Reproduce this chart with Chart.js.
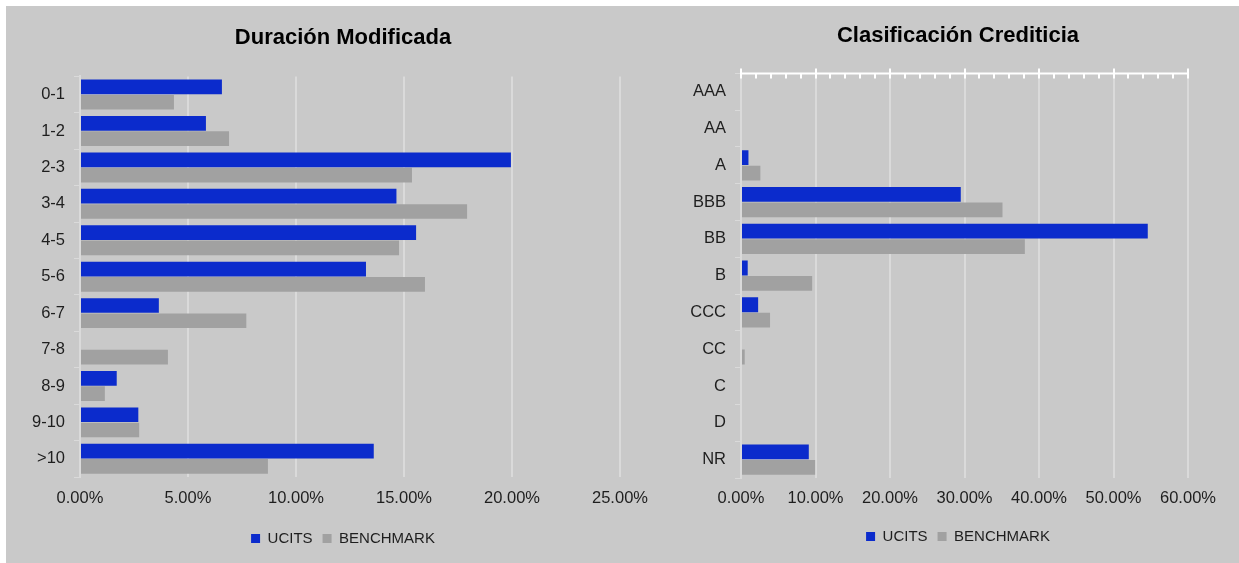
<!DOCTYPE html>
<html>
<head>
<meta charset="utf-8">
<script src="https://cdn.jsdelivr.net/npm/chart.js@4/dist/chart.umd.min.js"></script>
<style>
    html, body { margin: 0; padding: 0; background: #ffffff; }
    #panel {
        position: absolute;
        left: 6px;
        top: 6px;
        width: 1233px;
        height: 557px;
        background: #c9c9c9;
    }
    #panel canvas { position: absolute; top: 0; }
    #dur-chart { left: 0; }
    #cr-chart { left: 654px; }
</style>
</head>
<body>
<div id="panel">
    <canvas id="dur-chart" width="654" height="557"></canvas>
    <canvas id="cr-chart" width="579" height="557"></canvas>
</div>
<script>
// Duración Modificada (% of portfolio)
var durCategories = ['0-1', '1-2', '2-3', '3-4', '4-5', '5-6', '6-7', '7-8', '8-9', '9-10', '>10'];
var durUcits = [6.57, 5.83, 19.95, 14.65, 15.56, 13.24, 3.65, 0, 1.7, 2.7, 13.6];
var durBenchmark = [4.35, 6.9, 15.37, 17.92, 14.77, 15.97, 7.7, 4.07, 1.15, 2.74, 8.7];
var durTicks = { min: 0, max: 25, step: 5 };

// Clasificación Crediticia (% of portfolio)
var crCategories = ['AAA', 'AA', 'A', 'BBB', 'BB', 'B', 'CCC', 'CC', 'C', 'D', 'NR'];
var crUcits = [0, 0, 1.0, 29.5, 54.6, 0.9, 2.3, 0, 0, 0, 9.1];
var crBenchmark = [0, 0, 2.6, 35.1, 38.1, 9.55, 3.9, 0.5, 0, 0, 9.95];
var crTicks = { min: 0, max: 60, step: 10, minorStep: 2 };

var seriesNames = ['UCITS', 'BENCHMARK'];

(function () {
    'use strict';

    var FONT = "'Liberation Sans', Arial, sans-serif";
    var BLUE = '#0b2bcc';
    var GREY = '#a1a1a1';
    var GRID = '#dadada';
    var TEXT = '#1e1e1e';

    function pct(value) {
        return value.toFixed(2) + '%';
    }

    // white axis line along the top with major/minor tick marks (Excel style)
    var topAxisPlugin = {
        id: 'topAxis',
        afterDraw: function (chart, args, opts) {
            if (!opts || !opts.enabled) {
                return;
            }
            var x = chart.scales.x;
            var top = chart.chartArea.top;
            var c = chart.ctx;
            c.save();
            c.strokeStyle = '#ffffff';
            c.lineWidth = 2;
            c.beginPath();
            c.moveTo(chart.chartArea.left, top);
            c.lineTo(chart.chartArea.right, top);
            for (var v = x.min; v <= x.max + 1e-9; v += opts.minorStep) {
                var px = Math.round(x.getPixelForValue(v));
                var major = Math.abs(v / opts.majorStep - Math.round(v / opts.majorStep)) < 1e-6;
                c.moveTo(px, major ? top - 5 : top);
                c.lineTo(px, top + 5);
            }
            c.stroke();
            c.restore();
        }
    };

    function buildChart(canvasId, cfg) {
        var ctx = document.getElementById(canvasId);
        return new Chart(ctx, {
            type: 'bar',
            data: {
                labels: cfg.labels,
                datasets: [
                    {
                        label: seriesNames[0],
                        data: cfg.ucits,
                        backgroundColor: BLUE,
                        borderWidth: 0,
                        categoryPercentage: 0.84,
                        barPercentage: 0.96
                    },
                    {
                        label: seriesNames[1],
                        data: cfg.benchmark,
                        backgroundColor: GREY,
                        borderWidth: 0,
                        categoryPercentage: 0.84,
                        barPercentage: 0.96
                    }
                ]
            },
            plugins: [topAxisPlugin],
            options: {
                indexAxis: 'y',
                responsive: false,
                animation: false,
                layout: { padding: { left: cfg.padLeft, bottom: cfg.padBottom } },
                plugins: {
                    title: {
                        display: true,
                        text: cfg.title,
                        color: '#000000',
                        font: { family: FONT, size: 22, weight: 'bold' },
                        padding: { top: cfg.titleTop, bottom: cfg.titleBottom }
                    },
                    legend: {
                        position: 'bottom',
                        labels: {
                            boxWidth: 9,
                            boxHeight: 9,
                            padding: 10,
                            color: TEXT,
                            font: { family: FONT, size: 15 }
                        }
                    },
                    tooltip: { enabled: false },
                    topAxis: {
                        enabled: cfg.topAxis,
                        majorStep: cfg.ticks.step,
                        minorStep: cfg.ticks.minorStep
                    }
                },
                scales: {
                    x: {
                        min: cfg.ticks.min,
                        max: cfg.ticks.max,
                        border: { display: false },
                        grid: { color: GRID, lineWidth: 2, drawTicks: false },
                        ticks: {
                            stepSize: cfg.ticks.step,
                            maxRotation: 0,
                            padding: cfg.xPad,
                            color: TEXT,
                            font: { family: FONT, size: 16.5 },
                            callback: function (value) {
                                return pct(value);
                            }
                        },
                        afterFit: function (scale) {
                            scale.height = cfg.xHeight;
                        }
                    },
                    y: {
                        border: { display: true, color: GRID, width: 2 },
                        grid: { drawOnChartArea: false, color: GRID, tickLength: 6 },
                        ticks: {
                            padding: 9,
                            color: TEXT,
                            font: { family: FONT, size: 16.5 }
                        },
                        afterFit: function (scale) {
                            scale.width = cfg.yWidth;
                        }
                    },
                    // empty right-hand box, only reserves room so the title stays centred on the canvas
                    spacer: {
                        type: 'linear',
                        position: 'right',
                        display: true,
                        border: { display: false },
                        grid: { display: false },
                        ticks: { display: false },
                        afterFit: function (scale) {
                            scale.width = cfg.rightWidth;
                        }
                    }
                }
            }
        });
    }

    buildChart('dur-chart', {
        title: 'Duración Modificada',
        labels: durCategories,
        ucits: durUcits,
        benchmark: durBenchmark,
        ticks: durTicks,
        topAxis: false,
        padLeft: 20,
        yWidth: 54,
        rightWidth: 40,
        titleTop: 19,
        titleBottom: 25,
        xPad: 12,
        xHeight: 44,
        padBottom: 7
    });

    buildChart('cr-chart', {
        title: 'Clasificación Crediticia',
        labels: crCategories,
        ucits: crUcits,
        benchmark: crBenchmark,
        ticks: crTicks,
        topAxis: true,
        padLeft: 17,
        yWidth: 64,
        rightWidth: 51,
        titleTop: 17,
        titleBottom: 24,
        xPad: 11,
        xHeight: 41,
        padBottom: 9
    });
})();
</script>
</body>
</html>
